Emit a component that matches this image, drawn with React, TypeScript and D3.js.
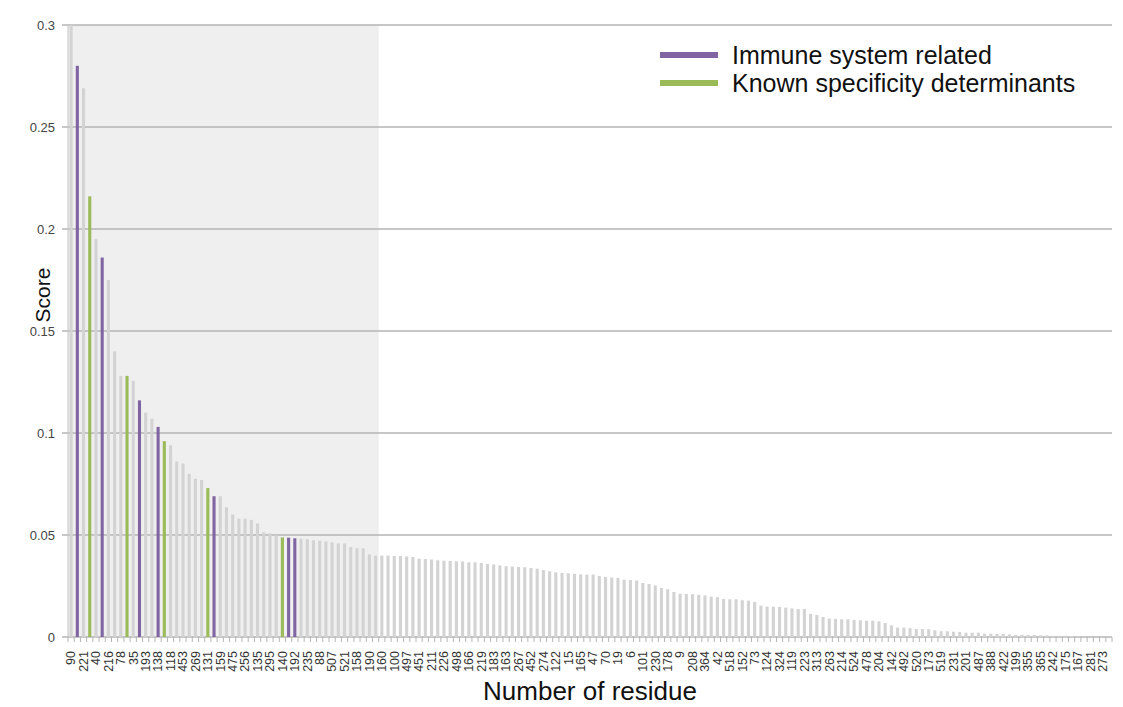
import React from "react";
import * as d3 from "d3";

// Labels shown on the axis (every other residue is labeled)
const residueLabels: string[] = [
  "90","221","40","216","78","35","193","138","118","453","269","131","159","475","256","135","295","140","192","235","88","507","521","158","190","160","100","497","451","211","226","498","166","219","183","163","267","452","274","122","15","165","47","70","19","6","101","230","178","9","208","364","42","518","152","73","124","324","119","223","313","263","214","524","478","204","142","492","520","173","519","231","201","487","388","422","199","355","365","242","175","167","281","273",
];

const scores: number[] = [
  0.300,0.280,0.269,0.216,0.195,0.186,0.175,0.140,0.128,0.128,
  0.1255,0.116,0.110,0.107,0.103,0.096,0.094,0.086,0.085,0.080,
  0.0776,0.077,0.073,0.069,0.069,0.0636,0.060,0.058,0.058,0.0574,
  0.0556,0.0513,0.0508,0.0498,0.0488,0.0487,0.0484,0.0482,0.048,0.0474,
  0.0472,0.0469,0.0464,0.0459,0.0459,0.0441,0.0436,0.0435,0.0405,0.0399,
  0.0399,0.0399,0.0397,0.0397,0.0395,0.0392,0.0384,0.0382,0.038,0.0376,
  0.0374,0.0373,0.0371,0.037,0.0366,0.0366,0.0363,0.0358,0.0356,0.0351,
  0.0347,0.0345,0.0343,0.0342,0.0338,0.0335,0.0328,0.0322,0.0317,0.0314,
  0.0312,0.031,0.0307,0.0306,0.0306,0.0299,0.0294,0.0291,0.029,0.0281,
  0.0279,0.0277,0.0265,0.026,0.0253,0.024,0.0234,0.0221,0.0212,0.0211,
  0.021,0.0207,0.0204,0.0198,0.0195,0.0186,0.0185,0.0185,0.018,0.0178,
  0.0172,0.0154,0.0149,0.0149,0.0147,0.0144,0.014,0.0137,0.0137,0.0113,
  0.0108,0.0098,0.009,0.0089,0.0087,0.0087,0.0083,0.0082,0.008,0.008,
  0.0077,0.0069,0.0057,0.0046,0.0046,0.0043,0.0039,0.0039,0.0038,0.0033,
  0.0028,0.0028,0.0026,0.0025,0.0021,0.0021,0.0021,0.0016,0.0016,0.0015,
  0.0015,0.0013,0.0011,0.0011,0.001,0.001,0.0008,0.0008,0.0006,0.0006,
  0.0006,0.0005,0.0003,0.0002,0.0002,0.0001,0.0001,0.0001,
];

const immuneIdx: number[] = [1, 5, 11, 14, 23, 35, 36];
const specificityIdx: number[] = [3, 9, 15, 22, 34];
const shadedCount = 50;
const yTicks: number[] = [0, 0.05, 0.1, 0.15, 0.2, 0.25, 0.3];
const yTickLabels: string[] = ["0", "0.05", "0.1", "0.15", "0.2", "0.25", "0.3"];
const legendItems: string[] = ["Immune system related", "Known specificity determinants"];

const W = 1123, H = 707;
const left = 68, right = 1112, top = 25, bottom = 637;
const PURPLE = "#8165a3";
const GREEN = "#9bbb59";
const GRAY = "#d3d3d3";
const FONT = "'Liberation Sans', Arial, Helvetica, sans-serif";

export default function App() {
  const idx = scores.map((_, i) => i);
  const x = d3.scaleBand<number>().domain(idx).range([left, right]).paddingInner(0.5).paddingOuter(0.25);
  const step = (right - left) / scores.length;
  const y = d3.scaleLinear().domain([0, 0.3]).range([bottom, top]);
  const color = (i: number) =>
    immuneIdx.includes(i) ? PURPLE : specificityIdx.includes(i) ? GREEN : GRAY;
  const label = (i: number) => (i % 2 === 0 ? residueLabels[i / 2] : "");

  return (
    <svg width={W} height={H} style={{ position: "absolute", left: 0, top: 0, background: "#fff" }} fontFamily={FONT}>
      {/* shaded region */}
      <rect x={left} y={top} width={step * shadedCount} height={bottom - top} fill="#efefef" />
      {/* grid lines */}
      {yTicks.map((t) => (
        <line key={t} x1={left - 6} x2={right} y1={y(t)} y2={y(t)} stroke="#b5b5b5" strokeWidth={1.3} />
      ))}
      {/* y axis line */}
      <line x1={left} x2={left} y1={top} y2={bottom} stroke="#c4c4c4" strokeWidth={1} />
      {/* bars */}
      {scores.map((v, i) => (
        <rect key={i} x={x(i)!} width={x.bandwidth()} y={y(v)} height={bottom - y(v)} fill={color(i)} />
      ))}
      {/* x axis ticks */}
      {d3.range(scores.length + 1).map((k) => (
        <line key={k} x1={left + k * step} x2={left + k * step} y1={bottom} y2={bottom + 5} stroke="#b5b5b5" strokeWidth={1} />
      ))}
      {/* y tick labels */}
      {yTicks.map((t, k) => (
        <text key={t} x={55} y={y(t)} dy="0.35em" textAnchor="end" fontSize={13} fill="#444">
          {yTickLabels[k]}
        </text>
      ))}
      {/* x labels */}
      {idx.map((i) =>
        label(i) ? (
          <text
            key={i}
            transform={`translate(${x(i)! + x.bandwidth() / 2},${651}) rotate(-90)`}
            textAnchor="end"
            dy="0.35em"
            fontSize={12.5}
            fill="#333"
          >
            {label(i)}
          </text>
        ) : null
      )}
      {/* axis titles */}
      <text transform={`translate(43,295) rotate(-90)`} textAnchor="middle" dy="0.35em" fontSize={21} fill="#111">
        Score
      </text>
      <text x={590} y={700} textAnchor="middle" fontSize={26} fill="#111">
        Number of residue
      </text>
      {/* legend */}
      {legendItems.map((name, k) => (
        <g key={name} transform={`translate(660,${55 + k * 28})`}>
          <line x1={0} x2={58} y1={0} y2={0} stroke={k === 0 ? PURPLE : GREEN} strokeWidth={6} />
          <text x={72} y={0} dy="0.35em" fontSize={25} fill="#111">
            {name}
          </text>
        </g>
      ))}
    </svg>
  );
}
